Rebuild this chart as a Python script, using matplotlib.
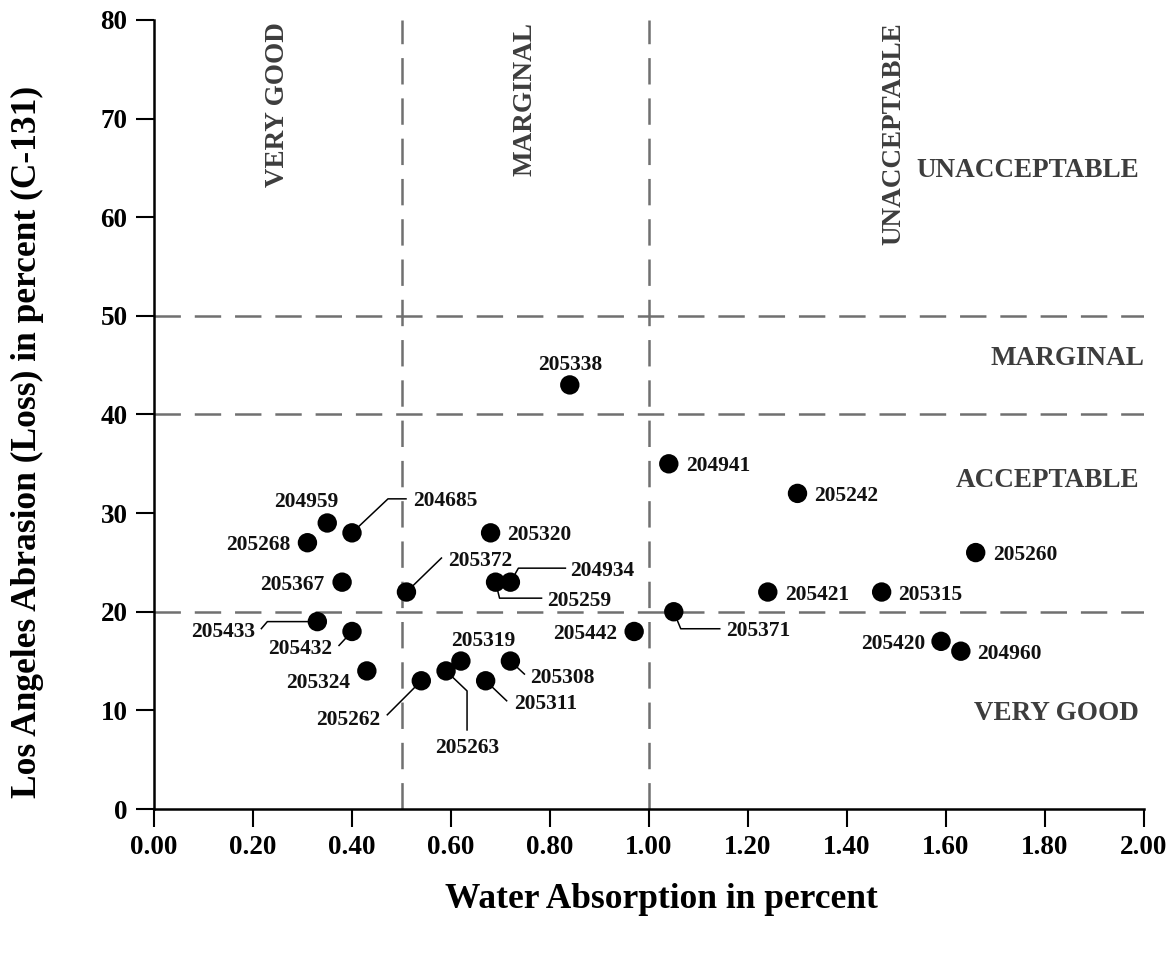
import matplotlib
matplotlib.use("Agg")
import matplotlib.pyplot as plt
import numpy as np

plt.rcParams.update({
    "font.family": ["Liberation Serif", "DejaVu Serif"],
    "font.weight": "bold",
    "lines.scale_dashes": False,
})

# ── data ────────────────────────────────────────────────────────────────
sample_ids = ["205338", "204941", "205242", "205260", "205421", "205315",
              "205420", "204960", "205371", "205442", "205320", "204934",
              "205259", "205372", "204685", "204959", "205268", "205367",
              "205433", "205432", "205324", "205262", "205263", "205319",
              "205308", "205311"]
absorption = [0.84, 1.04, 1.30, 1.66, 1.24, 1.47,
              1.59, 1.63, 1.05, 0.97, 0.68, 0.72,
              0.69, 0.51, 0.40, 0.35, 0.31, 0.38,
              0.33, 0.40, 0.43, 0.54, 0.59, 0.62,
              0.72, 0.67]
abrasion = [43, 35, 32, 26, 22, 22,
            17, 16, 20, 18, 28, 23,
            23, 22, 28, 29, 27, 23,
            19, 18, 14, 13, 14, 15,
            15, 13]

x_limits = [0.5, 1.0]          # water absorption class limits
y_limits = [20, 40, 50]        # abrasion class limits
x_ticks = np.arange(0, 2.01, 0.2)
y_ticks = np.arange(0, 81, 10)

# label placement: (dx px, dy px, ha, leader vertices in px from the dot)
LBL = {
    "205338": (0, 22, "center", None),
    "204941": (17, 0, "left", None),
    "205242": (17, 0, "left", None),
    "205260": (17, 0, "left", None),
    "205421": (17, 0, "left", None),
    "205315": (16, 0, "left", None),
    "205420": (-16, 0, "right", None),
    "204960": (16, 0, "left", None),
    "205371": (52, -17, "left", [(0, 0), (7, -17), (46, -17)]),
    "205442": (-17, 0, "right", None),
    "205320": (17, 0, "left", None),
    "204934": (60, 14, "left", [(0, 0), (8, 14), (55, 14)]),
    "205259": (52, -16, "left", [(0, 0), (4, -16), (46, -16)]),
    "205372": (42, 34, "left", [(0, 0), (35, 34)]),
    "204685": (61, 34, "left", [(0, 0), (36, 34), (54, 34)]),
    "204959": (-21, 23, "center", None),
    "205268": (-17, 0, "right", None),
    "205367": (-18, 0, "right", None),
    "205433": (-62, -8, "right", [(0, 0), (-50, 0), (-56, -7)]),
    "205432": (-20, -15, "right", [(0, 0), (-13, -14)]),
    "205324": (-17, -10, "right", None),
    "205262": (-41, -37, "right", [(0, 0), (-34, -34)]),
    "205263": (21, -75, "center", [(0, 0), (21, -20), (21, -59)]),
    "205319": (22, 23, "center", None),
    "205308": (20, -14, "left", [(0, 0), (14, -13)]),
    "205311": (28, -21, "left", [(0, 0), (21, -20)]),
}

CAT = "#3d3d3d"
DASH = "#707070"

fig = plt.figure(figsize=(11.71, 9.55), dpi=100)
ax = fig.add_axes([154 / 1171, 1 - 809 / 955, 990 / 1171, 789 / 955])
ax.set_xlim(0, 2.0)
ax.set_ylim(0, 80)

for xv in x_limits:
    ax.plot([xv, xv], [0, 80], color=DASH, lw=1.8, dashes=(19, 10), zorder=1)
for yv in y_limits:
    ax.plot([0, 2.0], [yv, yv], color=DASH, lw=1.8, dashes=(19, 10), zorder=1)

ax.scatter(absorption, abrasion, s=195, color="black", zorder=4,
           edgecolors="none")

fig.canvas.draw()
for sid, xv, yv in zip(sample_ids, absorption, abrasion):
    dx, dy, ha, leader = LBL[sid]
    if leader:
        base = ax.transData.transform((xv, yv))
        pts = ax.transData.inverted().transform(base + np.array(leader))
        ax.plot(pts[:, 0], pts[:, 1], color="black", lw=1.1, zorder=3)
    ax.annotate(sid, (xv, yv), xytext=(dx, dy), textcoords="offset pixels",
                ha=ha, va="center_baseline", fontsize=15.5, fontweight="bold",
                color="#111111", zorder=5)

# class names
kw = dict(fontsize=19.5, fontweight="bold", color=CAT)
ax.text(0.25, 79.8, "VERY GOOD", rotation=90, ha="center", va="top", **kw)
ax.text(0.75, 79.8, "MARGINAL", rotation=90, ha="center", va="top", **kw)
ax.text(1.495, 79.8, "UNACCEPTABLE", rotation=90, ha="center", va="top", **kw)
ax.text(1.99, 65, "UNACCEPTABLE", ha="right", va="center_baseline", **kw)
ax.text(2.0, 46, "MARGINAL", ha="right", va="center_baseline", **kw)
ax.text(1.99, 33.6, "ACCEPTABLE", ha="right", va="center_baseline", **kw)
ax.text(1.99, 10, "VERY GOOD", ha="right", va="center_baseline", **kw)

ax.set_xticks(x_ticks)
ax.set_xticklabels([f"{v:.2f}" for v in x_ticks])
ax.set_yticks(y_ticks)
ax.tick_params(direction="out", length=13, width=1.5, labelsize=19.5, pad=6,
               color="black")
for lbl in ax.get_xticklabels() + ax.get_yticklabels():
    lbl.set_fontweight("bold")
for side in ("top", "right"):
    ax.spines[side].set_visible(False)
for side in ("left", "bottom"):
    ax.spines[side].set_linewidth(1.8)

fig.text(661 / 1171, 1 - 899 / 955, "Water Absorption in percent",
         ha="center", va="center", fontsize=25.5, fontweight="bold")
fig.text(27 / 1171, 1 - 442 / 955, "Los Angeles Abrasion (Loss) in percent (C-131)",
         ha="center", va="center", rotation=90, fontsize=25.5, fontweight="bold")

fig.savefig("out.png", dpi=100)
